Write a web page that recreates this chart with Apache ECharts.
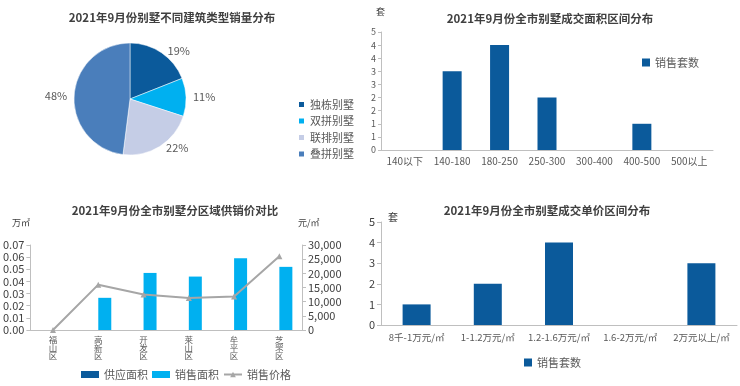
<!DOCTYPE html>
<html>
<head>
<meta charset="utf-8">
<script src="https://cdn.jsdelivr.net/npm/echarts@6/dist/echarts.min.js"></script>
<style>html,body{margin:0;padding:0;background:#fff}#c{width:740px;height:386px}</style>
</head>
<body>
<div id="c"></div>
<script>
// Pie: building types
const pieNames = ['独栋别墅', '双拼别墅', '联排别墅', '叠拼别墅'];
const pieValues = [19, 11, 22, 48];
// Area ranges
const areaCats = ['140以下', '140-180', '180-250', '250-300', '300-400', '400-500', '500以上'];
const areaCounts = [0, 3, 4, 2, 0, 1, 0];
// Districts
const districts = ['福山区', '高新区', '开发区', '莱山区', '牟平区', '芝罘区'];
const supplyArea = [0, 0, 0, 0, 0, 0];
const salesArea = [0, 0.0265, 0.047, 0.044, 0.059, 0.052];
const salesPrice = [0, 16000, 12500, 11300, 11800, 26000];
// Unit price ranges
const priceCats = ['8千-1万元/㎡', '1-1.2万元/㎡', '1.2-1.6万元/㎡', '1.6-2万元/㎡', '2万元以上/㎡'];
const priceCounts = [1, 2, 4, 0, 3];

const FONT = '"Noto Sans CJK SC", "Noto Sans", sans-serif';
const DARK = '#0b5a9b', CYAN = '#00b0f0', LIGHT = '#c5cde6', MID = '#4a7ebb';
const AX = '#bfbfbf', TXT = '#595959';

const chart = echarts.init(document.getElementById('c'));
const titleStyle = {fontSize: 11.5, fontWeight: 'bold', color: '#404040', fontFamily: FONT};
chart.setOption({
  textStyle: {fontFamily: FONT},
  animation: false,
  title: [
    {text: '2021年9月份别墅不同建筑类型销量分布', left: 167, top: 7, textAlign: 'center', textStyle: titleStyle},
    {text: '2021年9月份全市别墅成交面积区间分布', left: 545, top: 8, textAlign: 'center', textStyle: titleStyle},
    {text: '2021年9月份全市别墅分区域供销价对比', left: 170, top: 200, textAlign: 'center', textStyle: titleStyle},
    {text: '2021年9月份全市别墅成交单价区间分布', left: 542, top: 200, textAlign: 'center', textStyle: titleStyle}
  ],
  legend: [
    {data: pieNames, orient: 'vertical', left: 292, top: 94, itemWidth: 7, itemHeight: 7, itemGap: 5.5,
     textStyle: {fontSize: 11, color: TXT}, icon: 'rect'},
    {data: ['销售套数'], left: 637, top: 52, itemWidth: 8, itemHeight: 8, textStyle: {fontSize: 11, color: TXT}, icon: 'rect'},
    {data: [{name: '供应面积', icon: 'rect'}, {name: '销售面积', icon: 'rect'}, {name: '销售价格'}], left: 76, top: 364,
     itemWidth: 18, itemHeight: 7, itemGap: 4, textStyle: {fontSize: 11, color: TXT}},
    {data: ['销售套数'], left: 519, top: 352, itemWidth: 8, itemHeight: 8, textStyle: {fontSize: 11, color: TXT}, icon: 'rect'}
  ],
  graphic: [
    {type: 'text', left: 376, top: 7, style: {text: '套', fontSize: 9, fill: '#404040', fontFamily: FONT}},
    {type: 'text', left: 388, top: 212, style: {text: '套', fontSize: 10, fill: '#404040', fontFamily: FONT}},
    {type: 'text', left: 12, top: 218, style: {text: '万㎡', fontSize: 9, fill: '#404040', fontFamily: FONT}},
    {type: 'text', left: 298, top: 218, style: {text: '元/㎡', fontSize: 9, fill: '#404040', fontFamily: FONT}}
  ],
  grid: [
    {left: 381, right: 27, top: 32, height: 118, containLabel: false},
    {left: 30, right: 438, top: 245, height: 85, containLabel: false},
    {left: 381, right: 3, top: 222, height: 103, containLabel: false}
  ],
  xAxis: [
    {gridIndex: 0, type: 'category', data: areaCats,
     axisLine: {lineStyle: {color: AX}}, axisTick: {lineStyle: {color: AX}, length: 4},
     axisLabel: {fontSize: 10, color: TXT, margin: 6, interval: 0}},
    {gridIndex: 1, type: 'category', data: districts,
     axisLine: {lineStyle: {color: AX}}, axisTick: {lineStyle: {color: AX}, length: 4},
     axisLabel: {fontSize: 8.5, lineHeight: 8, color: TXT, margin: 6, interval: 0,
       formatter: v => v.split('').join('\n')}},
    {gridIndex: 2, type: 'category', data: priceCats,
     axisLine: {lineStyle: {color: AX}}, axisTick: {lineStyle: {color: AX}, length: 4},
     axisLabel: {fontSize: 9.5, color: TXT, margin: 8, interval: 0}}
  ],
  yAxis: [
    {gridIndex: 0, type: 'value', min: 0, max: 4.5, interval: 0.5,
     axisLine: {show: true, lineStyle: {color: AX}}, axisTick: {show: true, length: 3, lineStyle: {color: AX}},
     splitLine: {show: false}, axisLabel: {fontSize: 9, color: TXT, margin: 5, formatter: v => String(Math.round(v))}},
    {gridIndex: 1, type: 'value', min: 0, max: 0.07, interval: 0.01,
     axisLine: {show: true, lineStyle: {color: AX}}, axisTick: {show: true, length: 4, lineStyle: {color: AX}},
     splitLine: {show: false}, axisLabel: {fontSize: 11, color: '#404040', margin: 6, formatter: v => v.toFixed(2)}},
    {gridIndex: 1, type: 'value', position: 'right', min: 0, max: 30000, interval: 5000,
     axisLine: {show: true, lineStyle: {color: AX}}, axisTick: {show: true, length: 4, lineStyle: {color: AX}},
     splitLine: {show: false}, axisLabel: {fontSize: 11, color: '#404040', margin: 6}},
    {gridIndex: 2, type: 'value', min: 0, max: 5, interval: 1,
     axisLine: {show: true, lineStyle: {color: AX}}, axisTick: {show: true, length: 4, lineStyle: {color: AX}},
     splitLine: {show: false}, axisLabel: {fontSize: 11, color: '#404040', margin: 6}}
  ],
  series: [
    {type: 'pie', center: [130, 99], radius: 56, startAngle: 90, clockwise: true,
     data: pieNames.map((n, i) => ({name: n, value: pieValues[i]})),
     color: [DARK, CYAN, LIGHT, MID],
     itemStyle: {borderColor: '#fff', borderWidth: 0.5},
     label: {show: true, position: 'outside', formatter: '{c}%', fontSize: 11, color: TXT},
     labelLine: {show: false, length: 2, length2: 0}},
    {type: 'bar', name: '销售套数', xAxisIndex: 0, yAxisIndex: 0, data: areaCounts, barWidth: 19,
     itemStyle: {color: DARK}},
    {type: 'bar', name: '供应面积', xAxisIndex: 1, yAxisIndex: 1, data: supplyArea, barWidth: 13, barGap: '0%',
     itemStyle: {color: DARK}},
    {type: 'bar', name: '销售面积', xAxisIndex: 1, yAxisIndex: 1, data: salesArea, barWidth: 13, barGap: '0%',
     itemStyle: {color: CYAN}},
    {type: 'line', name: '销售价格', xAxisIndex: 1, yAxisIndex: 2, data: salesPrice,
     symbol: 'triangle', symbolSize: 6, lineStyle: {color: '#a6a6a6', width: 2}, itemStyle: {color: '#a6a6a6'}},
    {type: 'bar', name: '销售套数', xAxisIndex: 2, yAxisIndex: 3, data: priceCounts, barWidth: 28,
     itemStyle: {color: DARK}}
  ]
});
</script>
</body>
</html>
